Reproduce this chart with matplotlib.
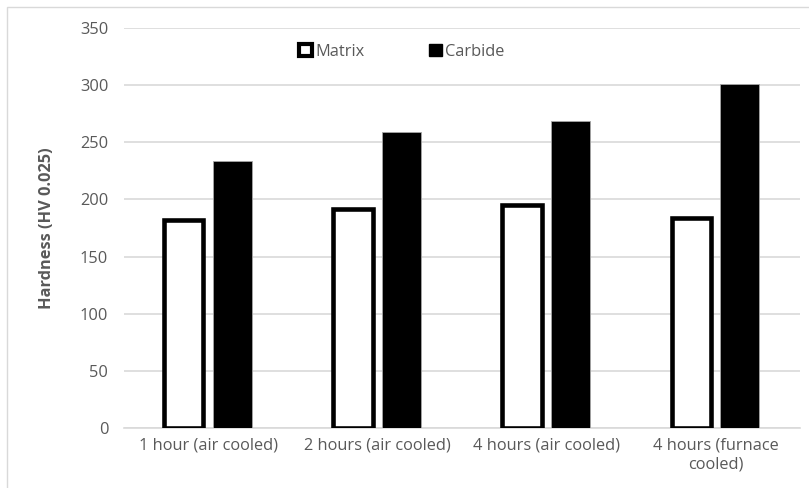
import matplotlib.pyplot as plt
import numpy as np
from matplotlib.patches import Patch, Rectangle

categories = ["1 hour (air cooled)", "2 hours (air cooled)", "4 hours (air cooled)", "4 hours (furnace\ncooled)"]
matrix = [182, 192, 195, 184]
carbide = [234, 259, 269, 301]
yticks = [0, 50, 100, 150, 200, 250, 300, 350]

plt.rcParams['font.family'] = ['Open Sans', 'DejaVu Sans']
gray = '#595959'
fs = 11.8

fig = plt.figure(figsize=(8.09, 4.88), dpi=100)
# chart area border
fig.patches.append(Rectangle((7 / 809, -0.1), 1.2, 1 - 7 / 488 + 0.1, transform=fig.transFigure,
                             fill=False, edgecolor='#d9d9d9', linewidth=1))
ax = fig.add_axes([123.5 / 809, 60 / 488, 676.5 / 809, 400 / 488])

x = np.arange(len(categories))
off = 0.1435
w = 0.232
ax.bar(x - off, matrix, w, facecolor='white', edgecolor='black', linewidth=3.3, zorder=3)
ax.bar(x + off, carbide, w, facecolor='black', edgecolor='#a6a6a6', linewidth=0.6, zorder=3)

ax.set_xlim(-0.5, len(categories) - 0.5)
ax.set_ylim(0, 350)
ax.set_yticks(yticks)
ax.set_xticks(x)
ax.set_xticklabels(categories, fontsize=fs, color=gray, linespacing=1.25)
ax.tick_params(axis='y', labelsize=fs, labelcolor=gray, length=0, pad=11)
ax.tick_params(axis='x', length=0, pad=7)
ax.yaxis.grid(True, color='#d9d9d9', linewidth=1.2, zorder=0)
ax.set_axisbelow(True)
for s in ['top', 'right', 'left']:
    ax.spines[s].set_visible(False)
ax.spines['bottom'].set_color('#d9d9d9')
ax.spines['bottom'].set_linewidth(1.2)

ax.set_ylabel("Hardness (HV 0.025)", fontsize=fs, fontweight='bold', color=gray, labelpad=18)

handles = [Patch(facecolor='white', edgecolor='black', linewidth=3, label='Matrix'),
           Patch(facecolor='black', edgecolor='black', label='Carbide')]
fig.legend(handles=handles, loc='center', bbox_to_anchor=(402 / 809, 1 - 52 / 488), ncol=2,
           frameon=False, fontsize=fs, handlelength=0.8, handleheight=0.75,
           handletextpad=0.2, columnspacing=3.9, labelcolor=gray)

fig.savefig("out.png", dpi=100)
